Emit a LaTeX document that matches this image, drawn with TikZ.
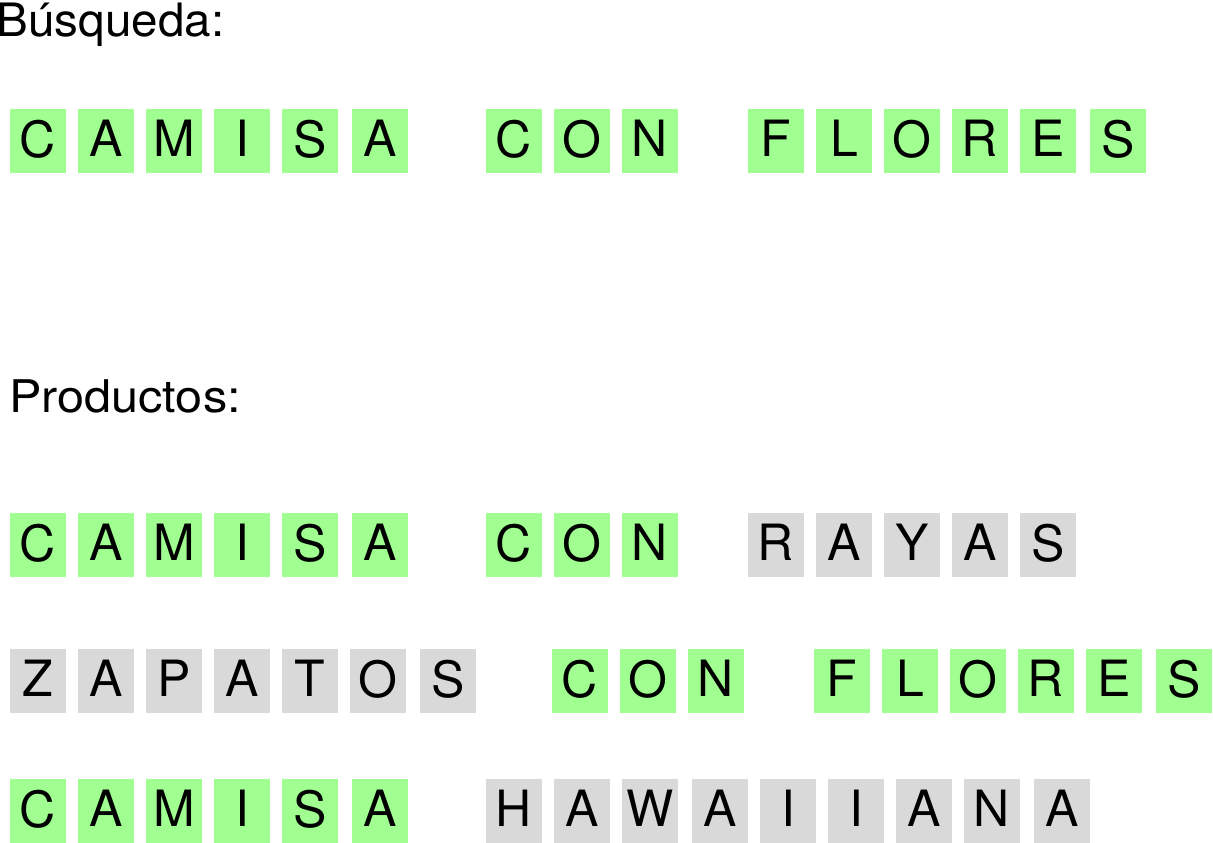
\documentclass[tikz,border=0pt]{standalone}
\usepackage{fontspec}
\usepackage{graphicx}
\setmainfont{TeX Gyre Heros}
\definecolor{hit}{RGB}{160,255,144}
\definecolor{miss}{RGB}{217,217,217}
\begin{document}
\begin{tikzpicture}[x=1pt,y=-1pt,
  cell/.style={minimum width=56pt,minimum height=64pt,inner sep=0pt,text depth=4.5pt,font=\fontsize{50}{50}\selectfont},
  cellg/.style={cell,fill=hit},
  cellh/.style={cell,fill=miss},
  heading/.style={anchor=base west,inner sep=0pt,font=\fontsize{46}{46}\selectfont}]
\useasboundingbox (0,0) rectangle (1213,843);
\node[heading] (busq) at (-3.6,36.7) {\scalebox{1.035}[1]{Búsqueda:}};
\node[heading,font=\fontsize{45}{45}\selectfont] (prod) at (9,412.7) {\scalebox{1.08}[1]{Productos:}};
% row 1: search
\foreach \x/\l/\s [count=\i] in {10/C/g,78/A/g,146/M/g,214/I/g,282/S/g,352/A/g,486/C/g,554/O/g,622/N/g,748/F/g,816/L/g,884/O/g,952/R/g,1020/E/g,1090/S/g}
  \node[cell\s] (a\i) at (\x+28,141) {\l};
% row 2
\foreach \x/\l/\s [count=\i] in {10/C/g,78/A/g,146/M/g,214/I/g,282/S/g,352/A/g,486/C/g,554/O/g,622/N/g,748/R/h,816/A/h,884/Y/h,952/A/h,1020/S/h}
  \node[cell\s] (b\i) at (\x+28,545) {\l};
% row 3
\foreach \x/\l/\s [count=\i] in {10/Z/h,78/A/h,146/P/h,214/A/h,282/T/h,350/O/h,420/S/h,552/C/g,620/O/g,688/N/g,814/F/g,882/L/g,950/O/g,1018/R/g,1086/E/g,1156/S/g}
  \node[cell\s] (c\i) at (\x+28,681) {\l};
% row 4
\foreach \x/\l/\s [count=\i] in {10/C/g,78/A/g,146/M/g,214/I/g,282/S/g,352/A/g,486/H/h,554/A/h,622/W/h,692/A/h,760/I/h,828/I/h,896/A/h,964/N/h,1034/A/h}
  \node[cell\s] (d\i) at (\x+28,811) {\l};
\end{tikzpicture}
\end{document}
